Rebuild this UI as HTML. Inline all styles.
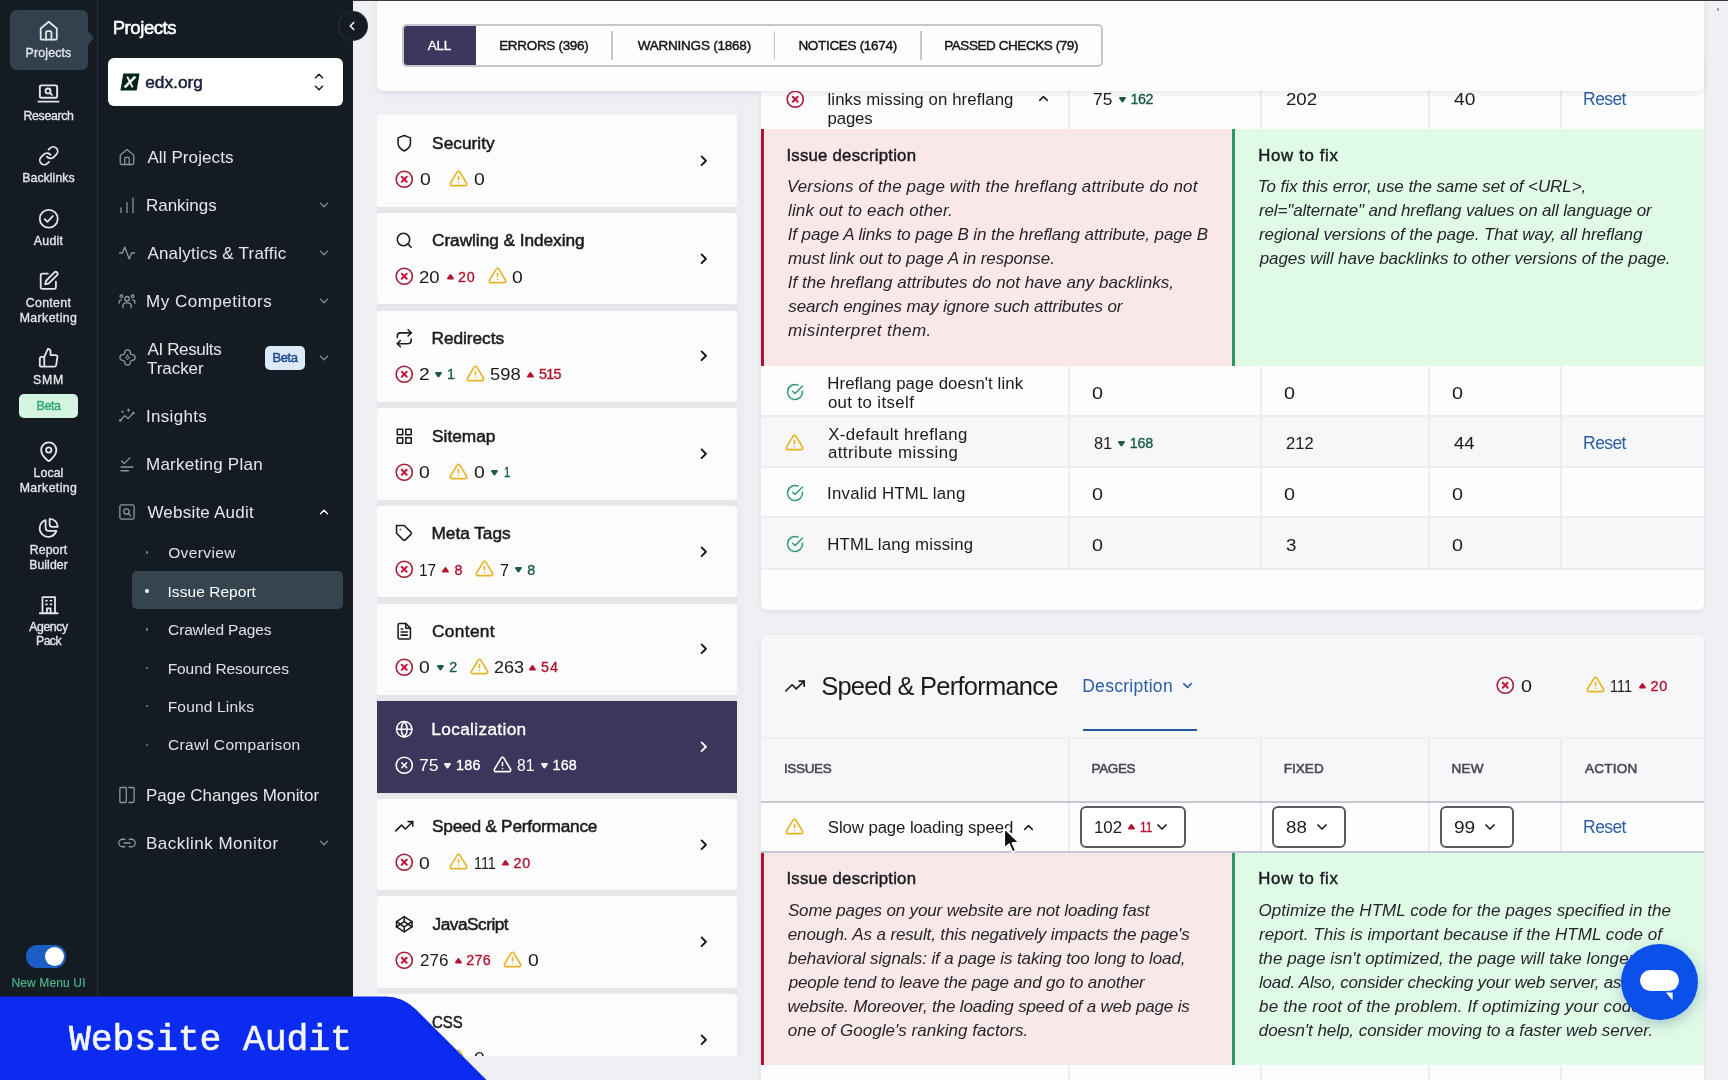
<!DOCTYPE html>
<html lang="en"><head><meta charset="utf-8"><title>Website Audit - Issue Report</title><style>
*{box-sizing:border-box;margin:0;padding:0}
html,body{width:1728px;height:1080px;overflow:hidden}
body{position:relative;background:#eff0f4;font-family:"Liberation Sans",sans-serif;color:#1f1f24}
.rail{position:absolute;left:0;top:0;width:98px;height:1080px;background:#151b23;border-right:1px solid #252d37}
.panel{position:absolute;left:98px;top:0;width:254.600px;height:1080px;background:#151b23}
.panel>*{margin-left:-98px}
span,h2,h3,p,a,.bx,.ic{position:absolute;white-space:nowrap;display:block;font-weight:400}
a{text-decoration:none}
.ic{overflow:visible}
.clip{position:absolute;overflow:hidden}
.rail,.panel,main,body>span{will-change:transform}
</style></head>
<body>
<aside class="rail"><div class="bx" style="left:9.5px;top:9.5px;width:78.5px;height:60.0px;background:#33414e;border-radius:7px;"></div><svg class="ic" style="left:87.5px;top:31px" width="7" height="14" viewBox="0 0 7 14"><path d="M0 0 L6 7 L0 14 Z" fill="#33414e"/></svg><svg class="ic" style="left:37.8px;top:20.2px" width="21.5" height="21.5" viewBox="0 0 24 24" fill="none" stroke="#e1e6ea" stroke-width="2.0" stroke-linecap="round" stroke-linejoin="round"><path d="M3 9.5l9-7.5 9 7.5V20a2 2 0 0 1-2 2H5a2 2 0 0 1-2-2z"/><path d="M9 22v-8a1.5 1.5 0 0 1 1.5-1.5h3A1.5 1.5 0 0 1 15 14v8"/></svg><span style="left:-151.5px;width:400px;text-align:center;top:46.3px;font-size:12.3px;line-height:15px;color:#e1e6ea;letter-spacing:0.17px;-webkit-text-stroke:0.35px #e1e6ea;">Projects</span><svg class="ic" style="left:37.0px;top:82.0px" width="23" height="23" viewBox="0 0 24 24" fill="none" stroke="#e1e6ea" stroke-width="2.0" stroke-linecap="round" stroke-linejoin="round"><rect x="3" y="3.5" width="18" height="13" rx="1.5"/><line x1="1.5" y1="20.5" x2="22.5" y2="20.5"/><circle cx="11.5" cy="9.3" r="2.6"/><line x1="13.6" y1="11.4" x2="15.6" y2="13.4"/></svg><span style="left:-151.5px;width:400px;text-align:center;top:108.5px;font-size:12.3px;line-height:15px;color:#e1e6ea;letter-spacing:-0.34px;-webkit-text-stroke:0.35px #e1e6ea;">Research</span><svg class="ic" style="left:37.8px;top:145.2px" width="21.5" height="21.5" viewBox="0 0 24 24" fill="none" stroke="#e1e6ea" stroke-width="2.0" stroke-linecap="round" stroke-linejoin="round"><path d="M10 13a5 5 0 0 0 7.54.54l3-3a5 5 0 0 0-7.07-7.07l-1.72 1.71"/><path d="M14 11a5 5 0 0 0-7.54-.54l-3 3a5 5 0 0 0 7.07 7.07l1.71-1.71"/></svg><span style="left:-151.5px;width:400px;text-align:center;top:171.0px;font-size:12.3px;line-height:15px;color:#e1e6ea;letter-spacing:0.06px;-webkit-text-stroke:0.35px #e1e6ea;">Backlinks</span><svg class="ic" style="left:37.8px;top:207.6px" width="21.5" height="21.5" viewBox="0 0 24 24" fill="none" stroke="#e1e6ea" stroke-width="2.0" stroke-linecap="round" stroke-linejoin="round"><circle cx="12" cy="12" r="10"/><polyline points="7.5 12.5 10.5 15.5 16.5 9"/></svg><span style="left:-151.5px;width:400px;text-align:center;top:234.0px;font-size:12.3px;line-height:15px;color:#e1e6ea;letter-spacing:0.26px;-webkit-text-stroke:0.35px #e1e6ea;">Audit</span><svg class="ic" style="left:37.8px;top:270.2px" width="21.5" height="21.5" viewBox="0 0 24 24" fill="none" stroke="#e1e6ea" stroke-width="2.0" stroke-linecap="round" stroke-linejoin="round"><path d="M11 4H5a2 2 0 0 0-2 2v13a2 2 0 0 0 2 2h13a2 2 0 0 0 2-2v-6"/><path d="M18.3 2.7a2.1 2.1 0 0 1 3 3L12 15l-4 1 1-4 9.3-9.3z"/></svg><span style="left:-151.5px;width:400px;text-align:center;top:296.3px;font-size:12.3px;line-height:15px;color:#e1e6ea;letter-spacing:0.35px;-webkit-text-stroke:0.35px #e1e6ea;">Content</span><span style="left:-151.5px;width:400px;text-align:center;top:310.5px;font-size:12.3px;line-height:15px;color:#e1e6ea;letter-spacing:0.40px;-webkit-text-stroke:0.35px #e1e6ea;">Marketing</span><svg class="ic" style="left:37.8px;top:346.9px" width="21.5" height="21.5" viewBox="0 0 24 24" fill="none" stroke="#e1e6ea" stroke-width="2.0" stroke-linecap="round" stroke-linejoin="round"><path d="M14 9V5a3 3 0 0 0-3-3l-4 9v11h11.28a2 2 0 0 0 2-1.7l1.38-9a2 2 0 0 0-2-2.3zM7 22H4a2 2 0 0 1-2-2v-7a2 2 0 0 1 2-2h3"/></svg><span style="left:-151.5px;width:400px;text-align:center;top:372.5px;font-size:12.3px;line-height:15px;color:#e1e6ea;letter-spacing:0.80px;-webkit-text-stroke:0.35px #e1e6ea;">SMM</span><div class="bx" style="left:19.0px;top:393.5px;width:59.2px;height:24.3px;background:#d3f5e1;border-radius:5px;"></div><span style="left:-151.5px;width:400px;text-align:center;top:398.0px;font-size:12.5px;line-height:16px;color:#2fa56f;letter-spacing:-0.44px;-webkit-text-stroke:0.4px #2fa56f;">Beta</span><svg class="ic" style="left:37.8px;top:440.8px" width="21.5" height="21.5" viewBox="0 0 24 24" fill="none" stroke="#e1e6ea" stroke-width="2.0" stroke-linecap="round" stroke-linejoin="round"><path d="M20.5 10c0 7-8.5 12.5-8.5 12.5S3.5 17 3.5 10a8.5 8.5 0 0 1 17 0z"/><circle cx="12" cy="10" r="3"/></svg><span style="left:-151.5px;width:400px;text-align:center;top:466.3px;font-size:12.3px;line-height:15px;color:#e1e6ea;letter-spacing:0.08px;-webkit-text-stroke:0.35px #e1e6ea;">Local</span><span style="left:-151.5px;width:400px;text-align:center;top:480.8px;font-size:12.3px;line-height:15px;color:#e1e6ea;letter-spacing:0.40px;-webkit-text-stroke:0.35px #e1e6ea;">Marketing</span><svg class="ic" style="left:37.8px;top:517.0px" width="21.5" height="21.5" viewBox="0 0 24 24" fill="none" stroke="#e1e6ea" stroke-width="2.0" stroke-linecap="round" stroke-linejoin="round"><path d="M20.5 15.5A9.5 9.5 0 1 1 8.5 3.6V12a3.5 3.5 0 0 0 3.5 3.5z"/><path d="M22 11A9 9 0 0 0 13 2v6a3 3 0 0 0 3 3z"/></svg><span style="left:-151.5px;width:400px;text-align:center;top:543.4px;font-size:12.3px;line-height:15px;color:#e1e6ea;letter-spacing:0.12px;-webkit-text-stroke:0.35px #e1e6ea;">Report</span><span style="left:-151.5px;width:400px;text-align:center;top:557.6px;font-size:12.3px;line-height:15px;color:#e1e6ea;letter-spacing:0.06px;-webkit-text-stroke:0.35px #e1e6ea;">Builder</span><svg class="ic" style="left:37.8px;top:594.2px" width="21.5" height="21.5" viewBox="0 0 24 24" fill="none" stroke="#e1e6ea" stroke-width="2.0" stroke-linecap="round" stroke-linejoin="round"><path d="M5 21V3.5h14V21"/><line x1="2" y1="21.5" x2="22" y2="21.5"/><path d="M10 21v-5h4v5"/><line x1="9" y1="7.5" x2="10" y2="7.5"/><line x1="14" y1="7.5" x2="15" y2="7.5"/><line x1="9" y1="11.5" x2="10" y2="11.5"/><line x1="14" y1="11.5" x2="15" y2="11.5"/></svg><span style="left:-151.5px;width:400px;text-align:center;top:620.3px;font-size:12.3px;line-height:15px;color:#e1e6ea;letter-spacing:-0.44px;-webkit-text-stroke:0.35px #e1e6ea;">Agency</span><span style="left:-151.5px;width:400px;text-align:center;top:634.3px;font-size:12.3px;line-height:15px;color:#e1e6ea;letter-spacing:-0.64px;-webkit-text-stroke:0.35px #e1e6ea;">Pack</span><div class="bx" style="left:25.5px;top:944.6px;width:40.5px;height:23.1px;background:#1c5fc4;border-radius:12px;"></div><div class="bx" style="left:44.5px;top:946.5px;width:19.2px;height:19.2px;background:#ffffff;border-radius:10px;"></div><span style="left:-151.5px;width:400px;text-align:center;top:976.2px;font-size:12px;line-height:15px;color:#4db38a;letter-spacing:0.14px;-webkit-text-stroke:0.2px #4db38a;">New Menu UI</span></aside>
<nav class="panel"><h2 style="left:112.7px;top:15.7px;font-size:18.5px;line-height:23px;color:#ffffff;letter-spacing:-0.42px;-webkit-text-stroke:0.55px #ffffff;">Projects</h2><div class="bx" style="left:108.0px;top:58.0px;width:235.0px;height:48.0px;background:#ffffff;border-radius:6px;"></div><svg class="ic" style="left:119.5px;top:72.5px" width="20" height="18" viewBox="0 0 20 18"><path d="M3.300 0.500H19.600L16.700 17.500H0.400Z" fill="#07241c"/><path d="M15.300 3.600L4.700 14.400" stroke="#f2fbf6" stroke-width="2.600" fill="none"/><path d="M7.200 3.600L12.600 14.400" stroke="#f2fbf6" stroke-width="1.900" fill="none"/></svg><span style="left:145.2px;top:71.4px;font-size:17.3px;line-height:22px;color:#1b1e3b;letter-spacing:0.01px;-webkit-text-stroke:0.5px #1b1e3b;">edx.org</span><svg class="ic" style="left:312.0px;top:69.3px" width="14" height="14" viewBox="0 0 24 24" fill="none" stroke="#1c1c1c" stroke-width="2.6" stroke-linecap="round" stroke-linejoin="round"><polyline points="18 15 12 9 6 15"/></svg><svg class="ic" style="left:312.0px;top:81.0px" width="14" height="14" viewBox="0 0 24 24" fill="none" stroke="#1c1c1c" stroke-width="2.6" stroke-linecap="round" stroke-linejoin="round"><polyline points="6 9 12 15 18 9"/></svg><svg class="ic" style="left:118.0px;top:147.5px" width="18" height="18" viewBox="0 0 24 24" fill="none" stroke="#8d98a3" stroke-width="1.7" stroke-linecap="round" stroke-linejoin="round"><path d="M3 9.5l9-7.5 9 7.5V20a2 2 0 0 1-2 2H5a2 2 0 0 1-2-2z"/><path d="M9 22v-8a1.5 1.5 0 0 1 1.5-1.5h3A1.5 1.5 0 0 1 15 14v8"/></svg><span style="left:147.4px;top:146.6px;font-size:17px;line-height:21px;color:#e4e8eb;letter-spacing:0.10px;">All Projects</span><svg class="ic" style="left:118.0px;top:195.8px" width="18" height="18" viewBox="0 0 24 24" fill="none" stroke="#8d98a3" stroke-width="1.7" stroke-linecap="round" stroke-linejoin="round"><line x1="4" y1="22" x2="4" y2="16"/><line x1="12" y1="22" x2="12" y2="9"/><line x1="20" y1="22" x2="20" y2="3"/></svg><span style="left:146.0px;top:194.9px;font-size:17px;line-height:21px;color:#e4e8eb;letter-spacing:-0.03px;">Rankings</span><svg class="ic" style="left:317.0px;top:197.8px" width="14" height="14" viewBox="0 0 24 24" fill="none" stroke="#7d8893" stroke-width="2.4" stroke-linecap="round" stroke-linejoin="round"><polyline points="6 9 12 15 18 9"/></svg><svg class="ic" style="left:118.0px;top:243.7px" width="18" height="18" viewBox="0 0 24 24" fill="none" stroke="#8d98a3" stroke-width="1.7" stroke-linecap="round" stroke-linejoin="round"><polyline points="22 12 18 12 15 20 9 4 6 12 2 12"/></svg><span style="left:147.4px;top:242.8px;font-size:17px;line-height:21px;color:#e4e8eb;letter-spacing:0.22px;">Analytics &amp; Traffic</span><svg class="ic" style="left:317.0px;top:245.7px" width="14" height="14" viewBox="0 0 24 24" fill="none" stroke="#7d8893" stroke-width="2.4" stroke-linecap="round" stroke-linejoin="round"><polyline points="6 9 12 15 18 9"/></svg><svg class="ic" style="left:118.0px;top:291.6px" width="18" height="18" viewBox="0 0 24 24" fill="none" stroke="#8d98a3" stroke-width="1.7" stroke-linecap="round" stroke-linejoin="round"><circle cx="12" cy="9" r="3"/><path d="M6.5 21v-2.5a4 4 0 0 1 4-4h3a4 4 0 0 1 4 4V21"/><circle cx="4.5" cy="5.5" r="1.8"/><circle cx="19.5" cy="5.5" r="1.8"/><path d="M1.5 15v-1.5a3 3 0 0 1 3-3"/><path d="M22.5 15v-1.5a3 3 0 0 0-3-3"/></svg><span style="left:146.0px;top:290.7px;font-size:17px;line-height:21px;color:#e4e8eb;letter-spacing:0.52px;">My Competitors</span><svg class="ic" style="left:317.0px;top:293.6px" width="14" height="14" viewBox="0 0 24 24" fill="none" stroke="#7d8893" stroke-width="2.4" stroke-linecap="round" stroke-linejoin="round"><polyline points="6 9 12 15 18 9"/></svg><svg class="ic" style="left:117.5px;top:348.0px" width="19" height="19" viewBox="0 0 24 24" fill="none" stroke="#8d98a3" stroke-width="1.6" stroke-linecap="round" stroke-linejoin="round"><path d="M8.400 6A3.600 3.600 0 0 1 15.600 6Q15.600 8.400 18 8.400A3.600 3.600 0 0 1 18 15.600Q15.600 15.600 15.600 18A3.600 3.600 0 0 1 8.400 18Q8.400 15.600 6 15.600A3.600 3.600 0 0 1 6 8.400Q8.400 8.400 8.400 6Z"/><path d="M12 9l0.900 2.100 2.100 0.900-2.100 0.900-0.900 2.100-0.900-2.100-2.100-0.900 2.100-0.900z" stroke-width="1.2"/></svg><span style="left:147.4px;top:339.4px;font-size:17px;line-height:21px;color:#e4e8eb;letter-spacing:-0.35px;">AI Results</span><span style="left:147.1px;top:358.4px;font-size:17px;line-height:21px;color:#e4e8eb;letter-spacing:-0.07px;">Tracker</span><div class="bx" style="left:265.0px;top:345.5px;width:40.0px;height:24.0px;background:#dce9f8;border-radius:5px;"></div><span style="left:85.0px;width:400px;text-align:center;top:349.9px;font-size:13px;line-height:16px;color:#1d4a8d;letter-spacing:-0.46px;-webkit-text-stroke:0.45px #1d4a8d;">Beta</span><svg class="ic" style="left:317.0px;top:350.5px" width="14" height="14" viewBox="0 0 24 24" fill="none" stroke="#7d8893" stroke-width="2.4" stroke-linecap="round" stroke-linejoin="round"><polyline points="6 9 12 15 18 9"/></svg><svg class="ic" style="left:118.0px;top:407.0px" width="18" height="18" viewBox="0 0 24 24" fill="none" stroke="#8d98a3" stroke-width="1.7" stroke-linecap="round" stroke-linejoin="round"><polyline points="3 18 9 11.500 13.500 15.500 20.500 8"/><circle cx="3" cy="18" r="0.8"/><circle cx="20.500" cy="8" r="0.8"/><path d="M14 2.500v3.400M12.300 4.200h3.400" stroke-width="1.3"/><path d="M6 5.500v2M5 6.500h2" stroke-width="1.2"/></svg><span style="left:145.9px;top:406.1px;font-size:17px;line-height:21px;color:#e4e8eb;letter-spacing:0.34px;">Insights</span><svg class="ic" style="left:118.0px;top:455.0px" width="18" height="18" viewBox="0 0 24 24" fill="none" stroke="#8d98a3" stroke-width="1.7" stroke-linecap="round" stroke-linejoin="round"><polyline points="5 8 8.5 11.5 16 3.500"/><line x1="4" y1="16" x2="20" y2="16"/><line x1="4" y1="21" x2="14" y2="21"/></svg><span style="left:146.0px;top:454.1px;font-size:17px;line-height:21px;color:#e4e8eb;letter-spacing:0.25px;">Marketing Plan</span><svg class="ic" style="left:118.0px;top:503.0px" width="18" height="18" viewBox="0 0 24 24" fill="none" stroke="#8d98a3" stroke-width="1.7" stroke-linecap="round" stroke-linejoin="round"><rect x="2.500" y="2.500" width="19" height="19" rx="2.500"/><circle cx="11.300" cy="11.300" r="3.600"/><line x1="14" y1="14" x2="17" y2="17"/></svg><span style="left:147.4px;top:502.1px;font-size:17px;line-height:21px;color:#e4e8eb;letter-spacing:0.22px;">Website Audit</span><svg class="ic" style="left:317.0px;top:505.0px" width="14" height="14" viewBox="0 0 24 24" fill="none" stroke="#ffffff" stroke-width="2.4" stroke-linecap="round" stroke-linejoin="round"><polyline points="18 15 12 9 6 15"/></svg><div class="bx" style="left:132.0px;top:571.2px;width:211.0px;height:38.3px;background:#36444f;border-radius:5px;"></div><div class="bx" style="left:146.1px;top:551.4px;width:2.2px;height:2.2px;background:#76828d;border-radius:50%;"></div><span style="left:168.2px;top:543.0px;font-size:15.5px;line-height:19px;color:#dde2e6;letter-spacing:0.37px;">Overview</span><div class="bx" style="left:145.0px;top:588.8px;width:4.4px;height:4.4px;background:#ffffff;border-radius:50%;"></div><span style="left:167.5px;top:581.5px;font-size:15.5px;line-height:19px;color:#ffffff;letter-spacing:0.05px;">Issue Report</span><div class="bx" style="left:146.1px;top:628.4px;width:2.2px;height:2.2px;background:#76828d;border-radius:50%;"></div><span style="left:168.1px;top:620.0px;font-size:15.5px;line-height:19px;color:#dde2e6;letter-spacing:-0.15px;">Crawled Pages</span><div class="bx" style="left:146.1px;top:666.9px;width:2.2px;height:2.2px;background:#76828d;border-radius:50%;"></div><span style="left:167.7px;top:658.5px;font-size:15.5px;line-height:19px;color:#dde2e6;letter-spacing:-0.08px;">Found Resources</span><div class="bx" style="left:146.1px;top:705.2px;width:2.2px;height:2.2px;background:#76828d;border-radius:50%;"></div><span style="left:167.7px;top:696.8px;font-size:15.5px;line-height:19px;color:#dde2e6;letter-spacing:0.18px;">Found Links</span><div class="bx" style="left:146.1px;top:743.6px;width:2.2px;height:2.2px;background:#76828d;border-radius:50%;"></div><span style="left:168.1px;top:735.2px;font-size:15.5px;line-height:19px;color:#dde2e6;letter-spacing:0.31px;">Crawl Comparison</span><svg class="ic" style="left:118.0px;top:786.0px" width="18" height="18" viewBox="0 0 24 24" fill="none" stroke="#8d98a3" stroke-width="1.7" stroke-linecap="round" stroke-linejoin="round"><rect x="2.500" y="2" width="8.500" height="20" rx="1.2"/><path d="M14.500 2h5a2 2 0 0 1 2 2v16a2 2 0 0 1-2 2h-5"/></svg><span style="left:146.0px;top:785.1px;font-size:17px;line-height:21px;color:#e4e8eb;letter-spacing:-0.04px;">Page Changes Monitor</span><svg class="ic" style="left:118.0px;top:834.0px" width="18" height="18" viewBox="0 0 24 24" fill="none" stroke="#8d98a3" stroke-width="1.7" stroke-linecap="round" stroke-linejoin="round"><path d="M15 7h3a5 5 0 0 1 0 10h-3m-6 0H6A5 5 0 0 1 6 7h3"/><line x1="8" y1="12" x2="16" y2="12"/></svg><span style="left:146.0px;top:833.1px;font-size:17px;line-height:21px;color:#e4e8eb;letter-spacing:0.49px;">Backlink Monitor</span><svg class="ic" style="left:317.0px;top:836.0px" width="14" height="14" viewBox="0 0 24 24" fill="none" stroke="#7d8893" stroke-width="2.4" stroke-linecap="round" stroke-linejoin="round"><polyline points="6 9 12 15 18 9"/></svg></nav>
<div class="bx" style="left:338.6px;top:12px;width:28px;height:28px;border-radius:50%;background:#161c24;box-shadow:0 0 0 1px #2a323c;"></div>
<svg class="ic" style="left:345.0px;top:19.0px" width="14" height="14" viewBox="0 0 24 24" fill="none" stroke="#ffffff" stroke-width="2.6" stroke-linecap="round" stroke-linejoin="round"><polyline points="15 18 9 12 15 6"/></svg>
<main><div class="bx" style="left:761.0px;top:60.0px;width:943.0px;height:550.2px;background:#fdfdfe;border-radius:0 0 6px 6px;box-shadow:0 2px 5px rgba(40,40,60,.08);"></div>
<div class="bx" style="left:1068.0px;top:60.0px;width:2.0px;height:69.3px;background:#ececf1;"></div><div class="bx" style="left:1259.7px;top:60.0px;width:2.0px;height:69.3px;background:#ececf1;"></div><div class="bx" style="left:1428.0px;top:60.0px;width:2.0px;height:69.3px;background:#ececf1;"></div><div class="bx" style="left:1559.7px;top:60.0px;width:2.0px;height:69.3px;background:#ececf1;"></div>
<svg class="ic" style="left:785.5px;top:89.8px" width="18.5" height="18.5" viewBox="0 0 24 24" fill="none" stroke="#a31b31" stroke-width="2.0" stroke-linecap="round" stroke-linejoin="round"><circle cx="12" cy="12" r="10.5"/><g stroke="#c4163a" stroke-width="2.500"><line x1="15.200" y1="8.800" x2="8.800" y2="15.200"/><line x1="8.800" y1="8.800" x2="15.200" y2="15.200"/></g></svg>
<span style="left:827.5px;top:88.5px;font-size:16.8px;line-height:21px;color:#1a1a1f;letter-spacing:0.09px;">links missing on hreflang</span>
<span style="left:827.6px;top:108.0px;font-size:16.8px;line-height:21px;color:#1a1a1f;letter-spacing:-0.17px;">pages</span>
<svg class="ic" style="left:1035.5px;top:91.0px" width="15" height="15" viewBox="0 0 24 24" fill="none" stroke="#1c1c1c" stroke-width="2.4" stroke-linecap="round" stroke-linejoin="round"><polyline points="18 15 12 9 6 15"/></svg>
<span style="left:1093.4px;top:88.5px;font-size:16.2px;line-height:20px;color:#1a1a1f;transform:scaleX(1.071);transform-origin:0 50%;">75</span>
<svg class="ic" style="left:1119.2px;top:96.5px" width="6.9" height="5.5" viewBox="0 0 6.9 5.5"><path d="M1.0 1.0 L5.9 1.0 L3.45 4.5 Z" fill="#195c41" stroke="#195c41" stroke-width="2" stroke-linejoin="round"/></svg>
<span style="left:1130.6px;top:89.8px;font-size:14.3px;line-height:18px;color:#195c41;letter-spacing:-0.49px;-webkit-text-stroke:0.35px #195c41;">162</span>
<span style="left:1285.5px;top:88.5px;font-size:16.2px;line-height:20px;color:#1a1a1f;transform:scaleX(1.152);transform-origin:0 50%;">202</span>
<span style="left:1454.2px;top:88.5px;font-size:16.2px;line-height:20px;color:#1a1a1f;transform:scaleX(1.182);transform-origin:0 50%;">40</span>
<a style="left:1583.1px;top:88.0px;font-size:17.5px;line-height:22px;color:#2b5ea6;letter-spacing:-0.59px;">Reset</a>
<div class="bx" style="left:761.0px;top:129.3px;width:471.6px;height:237.0px;background:#fae7e7;border-left:3px solid #b5122e;"></div><div class="bx" style="left:1231.6px;top:129.3px;width:472.4px;height:237.0px;background:#dffbe6;border-left:3px solid #2f9468;"></div><h3 style="left:786.4px;top:144.5px;font-size:16.8px;line-height:21px;color:#1a1a1f;letter-spacing:0.23px;-webkit-text-stroke:0.45px #1a1a1f;">Issue description</h3><h3 style="left:1258.3px;top:144.5px;font-size:16.8px;line-height:21px;color:#1a1a1f;letter-spacing:0.65px;-webkit-text-stroke:0.45px #1a1a1f;">How to fix</h3><p style="left:786.9px;top:176.3px;font-size:17px;line-height:21px;color:#25252b;font-style:italic;letter-spacing:0.14px;">Versions of the page with the hreflang attribute do not</p><p style="left:788.0px;top:200.3px;font-size:17px;line-height:21px;color:#25252b;font-style:italic;letter-spacing:0.13px;">link out to each other.</p><p style="left:787.7px;top:224.3px;font-size:17px;line-height:21px;color:#25252b;font-style:italic;letter-spacing:-0.08px;">If page A links to page B in the hreflang attribute, page B</p><p style="left:788.0px;top:248.3px;font-size:17px;line-height:21px;color:#25252b;font-style:italic;letter-spacing:-0.06px;">must link out to page A in response.</p><p style="left:787.7px;top:272.3px;font-size:17px;line-height:21px;color:#25252b;font-style:italic;letter-spacing:0.05px;">If the hreflang attributes do not have any backlinks,</p><p style="left:788.3px;top:296.3px;font-size:17px;line-height:21px;color:#25252b;font-style:italic;letter-spacing:-0.12px;">search engines may ignore such attributes or</p><p style="left:788.0px;top:320.3px;font-size:17px;line-height:21px;color:#25252b;font-style:italic;letter-spacing:0.42px;">misinterpret them.</p><p style="left:1257.8px;top:176.3px;font-size:17px;line-height:21px;color:#25252b;font-style:italic;letter-spacing:-0.08px;">To fix this error, use the same set of &lt;URL&gt;,</p><p style="left:1259.0px;top:200.3px;font-size:17px;line-height:21px;color:#25252b;font-style:italic;letter-spacing:-0.14px;">rel="alternate" and hreflang values on all language or</p><p style="left:1259.0px;top:224.3px;font-size:17px;line-height:21px;color:#25252b;font-style:italic;letter-spacing:-0.09px;">regional versions of the page. That way, all hreflang</p><p style="left:1259.7px;top:248.3px;font-size:17px;line-height:21px;color:#25252b;font-style:italic;letter-spacing:-0.09px;">pages will have backlinks to other versions of the page.</p>
<div class="bx" style="left:761.0px;top:366.3px;width:943.0px;height:50.9px;background:#fdfdfe;border-bottom:2px solid #ececf1;"></div>
<div class="bx" style="left:1068.0px;top:366.3px;width:2.0px;height:50.9px;background:#ececf1;"></div><div class="bx" style="left:1259.7px;top:366.3px;width:2.0px;height:50.9px;background:#ececf1;"></div><div class="bx" style="left:1428.0px;top:366.3px;width:2.0px;height:50.9px;background:#ececf1;"></div><div class="bx" style="left:1559.7px;top:366.3px;width:2.0px;height:50.9px;background:#ececf1;"></div>
<svg class="ic" style="left:785.8px;top:383.1px" width="18" height="18" viewBox="0 0 24 24" fill="none" stroke="#2f9a73" stroke-width="2.0" stroke-linecap="round" stroke-linejoin="round"><path d="M22 11.080V12a10 10 0 1 1-5.930-9.140"/><polyline points="22 4 12 14.010 9 11.010"/></svg>
<span style="left:827.3px;top:372.8px;font-size:16.8px;line-height:21px;color:#1a1a1f;letter-spacing:0.09px;">Hreflang page doesn't link</span>
<span style="left:827.9px;top:391.6px;font-size:16.8px;line-height:21px;color:#1a1a1f;letter-spacing:0.40px;">out to itself</span>
<span style="left:1091.9px;top:382.6px;font-size:16.2px;line-height:20px;color:#1a1a1f;transform:scaleX(1.222);transform-origin:0 50%;">0</span>
<span style="left:1284.1px;top:382.6px;font-size:16.2px;line-height:20px;color:#1a1a1f;transform:scaleX(1.222);transform-origin:0 50%;">0</span>
<span style="left:1451.9px;top:382.6px;font-size:16.2px;line-height:20px;color:#1a1a1f;transform:scaleX(1.222);transform-origin:0 50%;">0</span>
<div class="bx" style="left:761.0px;top:417.2px;width:943.0px;height:50.6px;background:#f7f7f9;border-bottom:2px solid #ececf1;"></div>
<div class="bx" style="left:1068.0px;top:417.2px;width:2.0px;height:50.6px;background:#ececf1;"></div><div class="bx" style="left:1259.7px;top:417.2px;width:2.0px;height:50.6px;background:#ececf1;"></div><div class="bx" style="left:1428.0px;top:417.2px;width:2.0px;height:50.6px;background:#ececf1;"></div><div class="bx" style="left:1559.7px;top:417.2px;width:2.0px;height:50.6px;background:#ececf1;"></div>
<svg class="ic" style="left:785.3px;top:433.3px" width="19" height="19" viewBox="0 0 24 24" fill="none" stroke="#e6b325" stroke-width="2.0" stroke-linecap="round" stroke-linejoin="round"><path d="M10.29 3.86L1.82 18a2 2 0 0 0 1.71 3h16.940a2 2 0 0 0 1.710-3L13.710 3.860a2 2 0 0 0-3.420 0z"/><line x1="12" y1="9.500" x2="12" y2="13.500"/><line x1="12" y1="17" x2="12.010" y2="17"/></svg>
<span style="left:828.3px;top:423.5px;font-size:16.8px;line-height:21px;color:#1a1a1f;letter-spacing:0.38px;">X-default hreflang</span>
<span style="left:827.9px;top:442.3px;font-size:16.8px;line-height:21px;color:#1a1a1f;letter-spacing:0.49px;">attribute missing</span>
<span style="left:1094.2px;top:432.8px;font-size:16.2px;line-height:20px;color:#1a1a1f;transform:scaleX(1.012);transform-origin:0 50%;">81</span>
<svg class="ic" style="left:1117.7px;top:440.9px" width="6.9" height="5.5" viewBox="0 0 6.9 5.5"><path d="M1.0 1.0 L5.9 1.0 L3.45 4.5 Z" fill="#195c41" stroke="#195c41" stroke-width="2" stroke-linejoin="round"/></svg>
<span style="left:1129.7px;top:434.1px;font-size:14.3px;line-height:18px;color:#195c41;letter-spacing:-0.18px;-webkit-text-stroke:0.35px #195c41;">168</span>
<span style="left:1285.7px;top:433.3px;font-size:16.2px;line-height:20px;color:#1a1a1f;transform:scaleX(1.022);transform-origin:0 50%;">212</span>
<span style="left:1453.9px;top:433.3px;font-size:16.2px;line-height:20px;color:#1a1a1f;transform:scaleX(1.142);transform-origin:0 50%;">44</span>
<a style="left:1583.1px;top:432.4px;font-size:17.5px;line-height:22px;color:#2b5ea6;letter-spacing:-0.59px;">Reset</a>
<div class="bx" style="left:761.0px;top:467.8px;width:943.0px;height:49.8px;background:#fdfdfe;border-bottom:2px solid #ececf1;"></div>
<div class="bx" style="left:1068.0px;top:467.8px;width:2.0px;height:49.8px;background:#ececf1;"></div><div class="bx" style="left:1259.7px;top:467.8px;width:2.0px;height:49.8px;background:#ececf1;"></div><div class="bx" style="left:1428.0px;top:467.8px;width:2.0px;height:49.8px;background:#ececf1;"></div><div class="bx" style="left:1559.7px;top:467.8px;width:2.0px;height:49.8px;background:#ececf1;"></div>
<svg class="ic" style="left:785.8px;top:484.0px" width="18" height="18" viewBox="0 0 24 24" fill="none" stroke="#2f9a73" stroke-width="2.0" stroke-linecap="round" stroke-linejoin="round"><path d="M22 11.080V12a10 10 0 1 1-5.930-9.140"/><polyline points="22 4 12 14.010 9 11.010"/></svg>
<span style="left:827.1px;top:483.3px;font-size:16.8px;line-height:21px;color:#1a1a1f;letter-spacing:0.22px;">Invalid HTML lang</span>
<span style="left:1091.9px;top:483.5px;font-size:16.2px;line-height:20px;color:#1a1a1f;transform:scaleX(1.222);transform-origin:0 50%;">0</span>
<span style="left:1284.1px;top:483.5px;font-size:16.2px;line-height:20px;color:#1a1a1f;transform:scaleX(1.222);transform-origin:0 50%;">0</span>
<span style="left:1451.9px;top:483.5px;font-size:16.2px;line-height:20px;color:#1a1a1f;transform:scaleX(1.222);transform-origin:0 50%;">0</span>
<div class="bx" style="left:761.0px;top:517.6px;width:943.0px;height:52.1px;background:#f7f7f9;border-bottom:2px solid #ececf1;"></div>
<div class="bx" style="left:1068.0px;top:517.6px;width:2.0px;height:52.1px;background:#ececf1;"></div><div class="bx" style="left:1259.7px;top:517.6px;width:2.0px;height:52.1px;background:#ececf1;"></div><div class="bx" style="left:1428.0px;top:517.6px;width:2.0px;height:52.1px;background:#ececf1;"></div><div class="bx" style="left:1559.7px;top:517.6px;width:2.0px;height:52.1px;background:#ececf1;"></div>
<svg class="ic" style="left:785.8px;top:535.0px" width="18" height="18" viewBox="0 0 24 24" fill="none" stroke="#2f9a73" stroke-width="2.0" stroke-linecap="round" stroke-linejoin="round"><path d="M22 11.080V12a10 10 0 1 1-5.930-9.140"/><polyline points="22 4 12 14.010 9 11.010"/></svg>
<span style="left:827.3px;top:534.2px;font-size:16.8px;line-height:21px;color:#1a1a1f;letter-spacing:0.17px;">HTML lang missing</span>
<span style="left:1091.9px;top:534.5px;font-size:16.2px;line-height:20px;color:#1a1a1f;transform:scaleX(1.222);transform-origin:0 50%;">0</span>
<span style="left:1285.8px;top:534.5px;font-size:16.2px;line-height:20px;color:#1a1a1f;transform:scaleX(1.157);transform-origin:0 50%;">3</span>
<span style="left:1451.9px;top:534.5px;font-size:16.2px;line-height:20px;color:#1a1a1f;transform:scaleX(1.222);transform-origin:0 50%;">0</span>
<div class="bx" style="left:761.0px;top:634.5px;width:943.0px;height:460.0px;background:#f7f7fa;border-radius:6px 6px 0 0;box-shadow:0 1px 5px rgba(40,40,60,.08);"></div>
<svg class="ic" style="left:784.5px;top:676.0px" width="20" height="20" viewBox="0 0 24 24" fill="none" stroke="#1c1c1c" stroke-width="2.1" stroke-linecap="round" stroke-linejoin="round"><polyline points="23 6 13.5 15.5 8.5 10.5 1 18"/><polyline points="17 6 23 6 23 12"/></svg>
<h2 style="left:821.2px;top:670.3px;font-size:25.5px;line-height:32px;color:#1a1a1f;letter-spacing:-0.76px;">Speed &amp; Performance</h2>
<a style="left:1082.2px;top:674.5px;font-size:17.5px;line-height:22px;color:#2b5ea6;letter-spacing:0.29px;">Description</a>
<svg class="ic" style="left:1179.8px;top:678.0px" width="15" height="15" viewBox="0 0 24 24" fill="none" stroke="#2b5ea6" stroke-width="2.4" stroke-linecap="round" stroke-linejoin="round"><polyline points="6 9 12 15 18 9"/></svg>
<div class="bx" style="left:1083.0px;top:729.0px;width:114.0px;height:2.0px;background:#1f5a96;"></div>
<div class="bx" style="left:761.0px;top:736.5px;width:943.0px;height:2.0px;background:#f0f0f4;"></div>
<div class="bx" style="left:1068.0px;top:738.5px;width:2.0px;height:62.5px;background:#ececf1;"></div><div class="bx" style="left:1259.7px;top:738.5px;width:2.0px;height:62.5px;background:#ececf1;"></div><div class="bx" style="left:1428.0px;top:738.5px;width:2.0px;height:62.5px;background:#ececf1;"></div><div class="bx" style="left:1559.7px;top:738.5px;width:2.0px;height:62.5px;background:#ececf1;"></div>
<span style="left:783.9px;top:760.2px;font-size:13.5px;line-height:17px;color:#474753;letter-spacing:-0.32px;-webkit-text-stroke:0.55px #474753;">ISSUES</span>
<span style="left:1091.6px;top:760.2px;font-size:13.5px;line-height:17px;color:#474753;letter-spacing:-0.39px;-webkit-text-stroke:0.55px #474753;">PAGES</span>
<span style="left:1283.7px;top:760.2px;font-size:13.5px;line-height:17px;color:#474753;letter-spacing:0.06px;-webkit-text-stroke:0.55px #474753;">FIXED</span>
<span style="left:1451.5px;top:760.2px;font-size:13.5px;line-height:17px;color:#474753;letter-spacing:0.19px;-webkit-text-stroke:0.55px #474753;">NEW</span>
<span style="left:1584.9px;top:760.2px;font-size:13.5px;line-height:17px;color:#474753;letter-spacing:0.28px;-webkit-text-stroke:0.55px #474753;">ACTION</span>
<svg class="ic" style="left:1496.0px;top:676.1px" width="18.5" height="18.5" viewBox="0 0 24 24" fill="none" stroke="#a31b31" stroke-width="2.0" stroke-linecap="round" stroke-linejoin="round"><circle cx="12" cy="12" r="10.5"/><g stroke="#c4163a" stroke-width="2.500"><line x1="15.200" y1="8.800" x2="8.800" y2="15.200"/><line x1="8.800" y1="8.800" x2="15.200" y2="15.200"/></g></svg>
<span style="left:1520.6px;top:675.7px;font-size:16.2px;line-height:20px;color:#1a1a1f;transform:scaleX(1.222);transform-origin:0 50%;">0</span>
<svg class="ic" style="left:1585.9px;top:675.3px" width="19" height="19" viewBox="0 0 24 24" fill="none" stroke="#e6b325" stroke-width="2.0" stroke-linecap="round" stroke-linejoin="round"><path d="M10.29 3.86L1.82 18a2 2 0 0 0 1.71 3h16.940a2 2 0 0 0 1.710-3L13.710 3.860a2 2 0 0 0-3.420 0z"/><line x1="12" y1="9.500" x2="12" y2="13.500"/><line x1="12" y1="17" x2="12.010" y2="17"/></svg>
<span style="left:1610.3px;top:675.7px;font-size:16.2px;line-height:20px;color:#1a1a1f;transform:scaleX(0.891);transform-origin:0 50%;">111</span>
<svg class="ic" style="left:1638.8px;top:683.2px" width="6.9" height="5.5" viewBox="0 0 6.9 5.5"><path d="M3.45 1.0 L5.9 4.5 L1.0 4.5 Z" fill="#b3132f" stroke="#b3132f" stroke-width="2" stroke-linejoin="round"/></svg>
<span style="left:1650.5px;top:676.8px;font-size:14.3px;line-height:18px;color:#b3132f;letter-spacing:0.90px;-webkit-text-stroke:0.35px #b3132f;">20</span>
<div class="bx" style="left:761.0px;top:800.5px;width:943.0px;height:2.0px;background:#c6c8d4;"></div>
<div class="bx" style="left:761.0px;top:802.5px;width:943.0px;height:48.5px;background:#fdfdfe;"></div>
<div class="bx" style="left:1068.0px;top:802.5px;width:2.0px;height:48.5px;background:#ececf1;"></div><div class="bx" style="left:1259.7px;top:802.5px;width:2.0px;height:48.5px;background:#ececf1;"></div><div class="bx" style="left:1428.0px;top:802.5px;width:2.0px;height:48.5px;background:#ececf1;"></div><div class="bx" style="left:1559.7px;top:802.5px;width:2.0px;height:48.5px;background:#ececf1;"></div>
<div class="bx" style="left:761.0px;top:851.0px;width:943.0px;height:2.0px;background:#c6c8d4;"></div>
<svg class="ic" style="left:785.3px;top:817.0px" width="19" height="19" viewBox="0 0 24 24" fill="none" stroke="#e6b325" stroke-width="2.0" stroke-linecap="round" stroke-linejoin="round"><path d="M10.29 3.86L1.82 18a2 2 0 0 0 1.71 3h16.940a2 2 0 0 0 1.710-3L13.710 3.860a2 2 0 0 0-3.420 0z"/><line x1="12" y1="9.500" x2="12" y2="13.500"/><line x1="12" y1="17" x2="12.010" y2="17"/></svg>
<span style="left:827.8px;top:816.9px;font-size:16.8px;line-height:21px;color:#1a1a1f;letter-spacing:-0.09px;">Slow page loading speed</span>
<svg class="ic" style="left:1021.2px;top:819.5px" width="15" height="15" viewBox="0 0 24 24" fill="none" stroke="#1c1c1c" stroke-width="2.4" stroke-linecap="round" stroke-linejoin="round"><polyline points="18 15 12 9 6 15"/></svg>
<div class="bx" style="left:1080.4px;top:806.0px;width:105.6px;height:41.7px;background:#ffffff;border:2px solid #5b5b62;border-radius:6px;"></div>
<span style="left:1093.7px;top:816.8px;font-size:16.2px;line-height:20px;color:#1a1a1f;transform:scaleX(1.039);transform-origin:0 50%;">102</span>
<svg class="ic" style="left:1127.6px;top:823.9px" width="6.9" height="5.5" viewBox="0 0 6.9 5.5"><path d="M3.45 1.0 L5.9 4.5 L1.0 4.5 Z" fill="#b3132f" stroke="#b3132f" stroke-width="2" stroke-linejoin="round"/></svg>
<span style="left:1140.0px;top:817.8px;font-size:14.3px;line-height:18px;color:#b3132f;transform:scaleX(0.834);transform-origin:0 50%;-webkit-text-stroke:0.35px #b3132f;">11</span>
<svg class="ic" style="left:1154.2px;top:819.3px" width="16" height="16" viewBox="0 0 24 24" fill="none" stroke="#1c1c1c" stroke-width="2.5" stroke-linecap="round" stroke-linejoin="round"><polyline points="6 9 12 15 18 9"/></svg>
<div class="bx" style="left:1272.3px;top:806.0px;width:73.5px;height:41.7px;background:#ffffff;border:2px solid #5b5b62;border-radius:6px;"></div>
<span style="left:1286.0px;top:816.8px;font-size:16.2px;line-height:20px;color:#1a1a1f;transform:scaleX(1.157);transform-origin:0 50%;">88</span>
<svg class="ic" style="left:1314.4px;top:819.3px" width="16" height="16" viewBox="0 0 24 24" fill="none" stroke="#1c1c1c" stroke-width="2.5" stroke-linecap="round" stroke-linejoin="round"><polyline points="6 9 12 15 18 9"/></svg>
<div class="bx" style="left:1440.0px;top:806.0px;width:73.9px;height:41.7px;background:#ffffff;border:2px solid #5b5b62;border-radius:6px;"></div>
<span style="left:1454.1px;top:816.8px;font-size:16.2px;line-height:20px;color:#1a1a1f;transform:scaleX(1.180);transform-origin:0 50%;">99</span>
<svg class="ic" style="left:1482.2px;top:819.3px" width="16" height="16" viewBox="0 0 24 24" fill="none" stroke="#1c1c1c" stroke-width="2.5" stroke-linecap="round" stroke-linejoin="round"><polyline points="6 9 12 15 18 9"/></svg>
<a style="left:1583.1px;top:816.3px;font-size:17.5px;line-height:22px;color:#2b5ea6;letter-spacing:-0.59px;">Reset</a>
<div class="bx" style="left:761.0px;top:853.0px;width:471.6px;height:212.0px;background:#fae7e7;border-left:3px solid #b5122e;"></div><div class="bx" style="left:1231.6px;top:853.0px;width:472.4px;height:212.0px;background:#dffbe6;border-left:3px solid #2f9468;"></div><h3 style="left:786.4px;top:868.1px;font-size:16.8px;line-height:21px;color:#1a1a1f;letter-spacing:0.23px;-webkit-text-stroke:0.45px #1a1a1f;">Issue description</h3><h3 style="left:1258.3px;top:868.1px;font-size:16.8px;line-height:21px;color:#1a1a1f;letter-spacing:0.65px;-webkit-text-stroke:0.45px #1a1a1f;">How to fix</h3><p style="left:787.9px;top:899.8px;font-size:17px;line-height:21px;color:#25252b;font-style:italic;letter-spacing:-0.15px;">Some pages on your website are not loading fast</p><p style="left:787.8px;top:923.8px;font-size:17px;line-height:21px;color:#25252b;font-style:italic;letter-spacing:-0.13px;">enough. As a result, this negatively impacts the page's</p><p style="left:788.1px;top:947.8px;font-size:17px;line-height:21px;color:#25252b;font-style:italic;letter-spacing:-0.11px;">behavioral signals: if a page is taking too long to load,</p><p style="left:788.7px;top:971.8px;font-size:17px;line-height:21px;color:#25252b;font-style:italic;letter-spacing:-0.13px;">people tend to leave the page and go to another</p><p style="left:787.5px;top:995.8px;font-size:17px;line-height:21px;color:#25252b;font-style:italic;letter-spacing:-0.15px;">website. Moreover, the loading speed of a web page is</p><p style="left:787.8px;top:1019.8px;font-size:17px;line-height:21px;color:#25252b;font-style:italic;letter-spacing:0.03px;">one of Google's ranking factors.</p><p style="left:1258.5px;top:899.8px;font-size:17px;line-height:21px;color:#25252b;font-style:italic;letter-spacing:0.05px;">Optimize the HTML code for the pages specified in the</p><p style="left:1259.0px;top:923.8px;font-size:17px;line-height:21px;color:#25252b;font-style:italic;letter-spacing:0.05px;">report. This is important because if the HTML code of</p><p style="left:1258.5px;top:947.8px;font-size:17px;line-height:21px;color:#25252b;font-style:italic;letter-spacing:0.10px;">the page isn't optimized, the page will take longer to</p><p style="left:1259.0px;top:971.8px;font-size:17px;line-height:21px;color:#25252b;font-style:italic;letter-spacing:-0.19px;">load. Also, consider checking your web server, as it may</p><p style="left:1259.1px;top:995.8px;font-size:17px;line-height:21px;color:#25252b;font-style:italic;letter-spacing:0.15px;">be the root of the problem. If optimizing your code</p><p style="left:1258.8px;top:1019.8px;font-size:17px;line-height:21px;color:#25252b;font-style:italic;letter-spacing:-0.05px;">doesn't help, consider moving to a faster web server.</p>
<div class="bx" style="left:761.0px;top:1065.0px;width:943.0px;height:20.0px;background:#fdfdfe;"></div>
<div class="bx" style="left:1068.0px;top:1066.0px;width:2.0px;height:14.0px;background:#ececf1;"></div><div class="bx" style="left:1259.7px;top:1066.0px;width:2.0px;height:14.0px;background:#ececf1;"></div><div class="bx" style="left:1428.0px;top:1066.0px;width:2.0px;height:14.0px;background:#ececf1;"></div><div class="bx" style="left:1559.7px;top:1066.0px;width:2.0px;height:14.0px;background:#ececf1;"></div>
<svg class="ic" style="left:1003.3px;top:826.5px" width="18.2" height="27.3" viewBox="0 0 14 21"><path d="M1 1v15.5l3.700-3.400 2.600 6.200 2.500-1.100-2.600-6 5-.3z" fill="#111" stroke="#fff" stroke-width="1.200" stroke-linejoin="round"/></svg>
<section class="clip" style="left:370px;top:100px;width:374px;height:955.5px;border-radius:0 0 6px 6px"><div style="position:absolute;left:-370px;top:-100px"><div class="bx" style="left:377.0px;top:118.0px;width:360.0px;height:960.0px;background:#e5e6e9;"></div><div class="bx" style="left:737.0px;top:90.5px;width:24.0px;height:965.0px;background:#ebedf1;"></div><div class="bx" style="left:377.0px;top:115.2px;width:360.0px;height:91.5px;background:#fcfcfd;border-radius:3px;"></div><svg class="ic" style="left:395.1px;top:133.8px" width="18.5" height="18.5" viewBox="0 0 24 24" fill="none" stroke="#1c1c1c" stroke-width="2.0" stroke-linecap="round" stroke-linejoin="round"><path d="M12 22s8-4 8-10V5l-8-3-8 3v7c0 6 8 10 8 10z"/></svg><h3 style="left:432.1px;top:131.7px;font-size:17.3px;line-height:22px;color:#1a1a1f;letter-spacing:0.02px;-webkit-text-stroke:0.5px #1a1a1f;">Security</h3><svg class="ic" style="left:694.5px;top:152.1px" width="17.5" height="17.5" viewBox="0 0 24 24" fill="none" stroke="#111111" stroke-width="2.5" stroke-linecap="round" stroke-linejoin="round"><polyline points="9 18 15 12 9 6"/></svg><svg class="ic" style="left:394.9px;top:169.6px" width="18.5" height="18.5" viewBox="0 0 24 24" fill="none" stroke="#a31b31" stroke-width="2.0" stroke-linecap="round" stroke-linejoin="round"><circle cx="12" cy="12" r="10.5"/><g stroke="#c4163a" stroke-width="2.500"><line x1="15.200" y1="8.800" x2="8.800" y2="15.200"/><line x1="8.800" y1="8.800" x2="15.200" y2="15.200"/></g></svg><span style="left:419.9px;top:169.0px;font-size:16.2px;line-height:20px;color:#1a1a1f;transform:scaleX(1.196);transform-origin:0 50%;">0</span><svg class="ic" style="left:448.7px;top:168.7px" width="19" height="19" viewBox="0 0 24 24" fill="none" stroke="#e6b325" stroke-width="2.0" stroke-linecap="round" stroke-linejoin="round"><path d="M10.29 3.86L1.82 18a2 2 0 0 0 1.71 3h16.940a2 2 0 0 0 1.710-3L13.710 3.860a2 2 0 0 0-3.420 0z"/><line x1="12" y1="9.500" x2="12" y2="13.500"/><line x1="12" y1="17" x2="12.010" y2="17"/></svg><span style="left:473.9px;top:169.0px;font-size:16.2px;line-height:20px;color:#1a1a1f;transform:scaleX(1.196);transform-origin:0 50%;">0</span><div class="bx" style="left:377.0px;top:212.9px;width:360.0px;height:91.5px;background:#fcfcfd;border-radius:3px;"></div><svg class="ic" style="left:395.1px;top:231.4px" width="18.5" height="18.5" viewBox="0 0 24 24" fill="none" stroke="#1c1c1c" stroke-width="2.0" stroke-linecap="round" stroke-linejoin="round"><circle cx="11" cy="11" r="8"/><line x1="21" y1="21" x2="16.65" y2="16.65"/></svg><h3 style="left:432.0px;top:229.4px;font-size:17.3px;line-height:22px;color:#1a1a1f;letter-spacing:-0.06px;-webkit-text-stroke:0.5px #1a1a1f;">Crawling &amp; Indexing</h3><svg class="ic" style="left:694.5px;top:249.7px" width="17.5" height="17.5" viewBox="0 0 24 24" fill="none" stroke="#111111" stroke-width="2.5" stroke-linecap="round" stroke-linejoin="round"><polyline points="9 18 15 12 9 6"/></svg><svg class="ic" style="left:394.9px;top:267.2px" width="18.5" height="18.5" viewBox="0 0 24 24" fill="none" stroke="#a31b31" stroke-width="2.0" stroke-linecap="round" stroke-linejoin="round"><circle cx="12" cy="12" r="10.5"/><g stroke="#c4163a" stroke-width="2.500"><line x1="15.200" y1="8.800" x2="8.800" y2="15.200"/><line x1="8.800" y1="8.800" x2="15.200" y2="15.200"/></g></svg><span style="left:419.1px;top:266.7px;font-size:16.2px;line-height:20px;color:#1a1a1f;transform:scaleX(1.144);transform-origin:0 50%;">20</span><svg class="ic" style="left:446.8px;top:274.3px" width="6.9" height="5.5" viewBox="0 0 6.9 5.5"><path d="M3.45 1.0 L5.9 4.5 L1.0 4.5 Z" fill="#b3132f" stroke="#b3132f" stroke-width="2" stroke-linejoin="round"/></svg><span style="left:457.9px;top:267.8px;font-size:14.3px;line-height:18px;color:#b3132f;letter-spacing:0.90px;-webkit-text-stroke:0.35px #b3132f;">20</span><svg class="ic" style="left:487.7px;top:266.4px" width="19" height="19" viewBox="0 0 24 24" fill="none" stroke="#e6b325" stroke-width="2.0" stroke-linecap="round" stroke-linejoin="round"><path d="M10.29 3.86L1.82 18a2 2 0 0 0 1.71 3h16.940a2 2 0 0 0 1.710-3L13.710 3.860a2 2 0 0 0-3.420 0z"/><line x1="12" y1="9.500" x2="12" y2="13.500"/><line x1="12" y1="17" x2="12.010" y2="17"/></svg><span style="left:512.3px;top:266.7px;font-size:16.2px;line-height:20px;color:#1a1a1f;transform:scaleX(1.196);transform-origin:0 50%;">0</span><div class="bx" style="left:377.0px;top:310.5px;width:360.0px;height:91.5px;background:#fcfcfd;border-radius:3px;"></div><svg class="ic" style="left:395.1px;top:329.1px" width="18.5" height="18.5" viewBox="0 0 24 24" fill="none" stroke="#1c1c1c" stroke-width="2.0" stroke-linecap="round" stroke-linejoin="round"><polyline points="17 1 21 5 17 9"/><path d="M3 11V9a4 4 0 0 1 4-4h14"/><polyline points="7 23 3 19 7 15"/><path d="M21 13v2a4 4 0 0 1-4 4H3"/></svg><h3 style="left:431.5px;top:327.0px;font-size:17.3px;line-height:22px;color:#1a1a1f;letter-spacing:-0.05px;-webkit-text-stroke:0.5px #1a1a1f;">Redirects</h3><svg class="ic" style="left:694.5px;top:347.4px" width="17.5" height="17.5" viewBox="0 0 24 24" fill="none" stroke="#111111" stroke-width="2.5" stroke-linecap="round" stroke-linejoin="round"><polyline points="9 18 15 12 9 6"/></svg><svg class="ic" style="left:394.9px;top:364.9px" width="18.5" height="18.5" viewBox="0 0 24 24" fill="none" stroke="#a31b31" stroke-width="2.0" stroke-linecap="round" stroke-linejoin="round"><circle cx="12" cy="12" r="10.5"/><g stroke="#c4163a" stroke-width="2.500"><line x1="15.200" y1="8.800" x2="8.800" y2="15.200"/><line x1="8.800" y1="8.800" x2="15.200" y2="15.200"/></g></svg><span style="left:419.0px;top:364.3px;font-size:16.2px;line-height:20px;color:#1a1a1f;transform:scaleX(1.194);transform-origin:0 50%;">2</span><svg class="ic" style="left:435.3px;top:372.0px" width="6.9" height="5.5" viewBox="0 0 6.9 5.5"><path d="M1.0 1.0 L5.9 1.0 L3.45 4.5 Z" fill="#195c41" stroke="#195c41" stroke-width="2" stroke-linejoin="round"/></svg><span style="left:447.0px;top:365.4px;font-size:14.3px;line-height:18px;color:#195c41;letter-spacing:-1.21px;-webkit-text-stroke:0.35px #195c41;">1</span><svg class="ic" style="left:465.5px;top:364.0px" width="19" height="19" viewBox="0 0 24 24" fill="none" stroke="#e6b325" stroke-width="2.0" stroke-linecap="round" stroke-linejoin="round"><path d="M10.29 3.86L1.82 18a2 2 0 0 0 1.71 3h16.940a2 2 0 0 0 1.710-3L13.710 3.860a2 2 0 0 0-3.420 0z"/><line x1="12" y1="9.500" x2="12" y2="13.500"/><line x1="12" y1="17" x2="12.010" y2="17"/></svg><span style="left:490.1px;top:364.3px;font-size:16.2px;line-height:20px;color:#1a1a1f;transform:scaleX(1.137);transform-origin:0 50%;">598</span><svg class="ic" style="left:527.0px;top:372.0px" width="6.9" height="5.5" viewBox="0 0 6.9 5.5"><path d="M3.45 1.0 L5.9 4.5 L1.0 4.5 Z" fill="#b3132f" stroke="#b3132f" stroke-width="2" stroke-linejoin="round"/></svg><span style="left:539.1px;top:365.4px;font-size:14.3px;line-height:18px;color:#b3132f;letter-spacing:-0.78px;-webkit-text-stroke:0.35px #b3132f;">515</span><div class="bx" style="left:377.0px;top:408.2px;width:360.0px;height:91.5px;background:#fcfcfd;border-radius:3px;"></div><svg class="ic" style="left:395.1px;top:426.7px" width="18.5" height="18.5" viewBox="0 0 24 24" fill="none" stroke="#1c1c1c" stroke-width="2.0" stroke-linecap="round" stroke-linejoin="round"><rect x="3" y="3" width="7" height="7"/><rect x="14" y="3" width="7" height="7"/><rect x="14" y="14" width="7" height="7"/><rect x="3" y="14" width="7" height="7"/></svg><h3 style="left:432.1px;top:424.7px;font-size:17.3px;line-height:22px;color:#1a1a1f;letter-spacing:-0.02px;-webkit-text-stroke:0.5px #1a1a1f;">Sitemap</h3><svg class="ic" style="left:694.5px;top:445.0px" width="17.5" height="17.5" viewBox="0 0 24 24" fill="none" stroke="#111111" stroke-width="2.5" stroke-linecap="round" stroke-linejoin="round"><polyline points="9 18 15 12 9 6"/></svg><svg class="ic" style="left:394.9px;top:462.5px" width="18.5" height="18.5" viewBox="0 0 24 24" fill="none" stroke="#a31b31" stroke-width="2.0" stroke-linecap="round" stroke-linejoin="round"><circle cx="12" cy="12" r="10.5"/><g stroke="#c4163a" stroke-width="2.500"><line x1="15.200" y1="8.800" x2="8.800" y2="15.200"/><line x1="8.800" y1="8.800" x2="15.200" y2="15.200"/></g></svg><span style="left:419.3px;top:462.0px;font-size:16.2px;line-height:20px;color:#1a1a1f;transform:scaleX(1.196);transform-origin:0 50%;">0</span><svg class="ic" style="left:449.4px;top:461.7px" width="19" height="19" viewBox="0 0 24 24" fill="none" stroke="#e6b325" stroke-width="2.0" stroke-linecap="round" stroke-linejoin="round"><path d="M10.29 3.86L1.82 18a2 2 0 0 0 1.71 3h16.940a2 2 0 0 0 1.710-3L13.710 3.860a2 2 0 0 0-3.420 0z"/><line x1="12" y1="9.500" x2="12" y2="13.500"/><line x1="12" y1="17" x2="12.010" y2="17"/></svg><span style="left:474.3px;top:462.0px;font-size:16.2px;line-height:20px;color:#1a1a1f;transform:scaleX(1.196);transform-origin:0 50%;">0</span><svg class="ic" style="left:491.4px;top:469.6px" width="6.9" height="5.5" viewBox="0 0 6.9 5.5"><path d="M1.0 1.0 L5.9 1.0 L3.45 4.5 Z" fill="#195c41" stroke="#195c41" stroke-width="2" stroke-linejoin="round"/></svg><span style="left:503.6px;top:463.1px;font-size:14.3px;line-height:18px;color:#195c41;transform:scaleX(0.800);transform-origin:0 50%;-webkit-text-stroke:0.35px #195c41;">1</span><div class="bx" style="left:377.0px;top:505.8px;width:360.0px;height:91.5px;background:#fcfcfd;border-radius:3px;"></div><svg class="ic" style="left:395.1px;top:524.4px" width="18.5" height="18.5" viewBox="0 0 24 24" fill="none" stroke="#1c1c1c" stroke-width="2.0" stroke-linecap="round" stroke-linejoin="round"><path d="M20.59 13.41l-7.17 7.17a2 2 0 0 1-2.83 0L2 12V2h10l8.59 8.59a2 2 0 0 1 0 2.82z"/><line x1="7" y1="7" x2="7.01" y2="7"/></svg><h3 style="left:431.5px;top:522.3px;font-size:17.3px;line-height:22px;color:#1a1a1f;letter-spacing:-0.03px;-webkit-text-stroke:0.5px #1a1a1f;">Meta Tags</h3><svg class="ic" style="left:694.5px;top:542.6px" width="17.5" height="17.5" viewBox="0 0 24 24" fill="none" stroke="#111111" stroke-width="2.5" stroke-linecap="round" stroke-linejoin="round"><polyline points="9 18 15 12 9 6"/></svg><svg class="ic" style="left:394.9px;top:560.1px" width="18.5" height="18.5" viewBox="0 0 24 24" fill="none" stroke="#a31b31" stroke-width="2.0" stroke-linecap="round" stroke-linejoin="round"><circle cx="12" cy="12" r="10.5"/><g stroke="#c4163a" stroke-width="2.500"><line x1="15.200" y1="8.800" x2="8.800" y2="15.200"/><line x1="8.800" y1="8.800" x2="15.200" y2="15.200"/></g></svg><span style="left:418.8px;top:559.6px;font-size:16.2px;line-height:20px;color:#1a1a1f;transform:scaleX(0.954);transform-origin:0 50%;">17</span><svg class="ic" style="left:442.2px;top:567.2px" width="6.9" height="5.5" viewBox="0 0 6.9 5.5"><path d="M3.45 1.0 L5.9 4.5 L1.0 4.5 Z" fill="#b3132f" stroke="#b3132f" stroke-width="2" stroke-linejoin="round"/></svg><span style="left:454.4px;top:560.7px;font-size:14.3px;line-height:18px;color:#b3132f;letter-spacing:0.22px;-webkit-text-stroke:0.35px #b3132f;">8</span><svg class="ic" style="left:475.3px;top:559.3px" width="19" height="19" viewBox="0 0 24 24" fill="none" stroke="#e6b325" stroke-width="2.0" stroke-linecap="round" stroke-linejoin="round"><path d="M10.29 3.86L1.82 18a2 2 0 0 0 1.71 3h16.940a2 2 0 0 0 1.710-3L13.710 3.860a2 2 0 0 0-3.420 0z"/><line x1="12" y1="9.500" x2="12" y2="13.500"/><line x1="12" y1="17" x2="12.010" y2="17"/></svg><span style="left:499.8px;top:559.6px;font-size:16.2px;line-height:20px;color:#1a1a1f;transform:scaleX(0.993);transform-origin:0 50%;">7</span><svg class="ic" style="left:515.0px;top:567.2px" width="6.9" height="5.5" viewBox="0 0 6.9 5.5"><path d="M1.0 1.0 L5.9 1.0 L3.45 4.5 Z" fill="#195c41" stroke="#195c41" stroke-width="2" stroke-linejoin="round"/></svg><span style="left:527.2px;top:560.7px;font-size:14.3px;line-height:18px;color:#195c41;letter-spacing:0.52px;-webkit-text-stroke:0.35px #195c41;">8</span><div class="bx" style="left:377.0px;top:603.5px;width:360.0px;height:91.5px;background:#fcfcfd;border-radius:3px;"></div><svg class="ic" style="left:395.1px;top:622.0px" width="18.5" height="18.5" viewBox="0 0 24 24" fill="none" stroke="#1c1c1c" stroke-width="2.0" stroke-linecap="round" stroke-linejoin="round"><path d="M14 2H6a2 2 0 0 0-2 2v16a2 2 0 0 0 2 2h12a2 2 0 0 0 2-2V8z"/><polyline points="14 2 14 8 20 8"/><line x1="16" y1="13" x2="8" y2="13"/><line x1="16" y1="17" x2="8" y2="17"/><polyline points="10 9 9 9 8 9"/></svg><h3 style="left:432.0px;top:620.0px;font-size:17.3px;line-height:22px;color:#1a1a1f;letter-spacing:0.35px;-webkit-text-stroke:0.5px #1a1a1f;">Content</h3><svg class="ic" style="left:694.5px;top:640.3px" width="17.5" height="17.5" viewBox="0 0 24 24" fill="none" stroke="#111111" stroke-width="2.5" stroke-linecap="round" stroke-linejoin="round"><polyline points="9 18 15 12 9 6"/></svg><svg class="ic" style="left:394.9px;top:657.8px" width="18.5" height="18.5" viewBox="0 0 24 24" fill="none" stroke="#a31b31" stroke-width="2.0" stroke-linecap="round" stroke-linejoin="round"><circle cx="12" cy="12" r="10.5"/><g stroke="#c4163a" stroke-width="2.500"><line x1="15.200" y1="8.800" x2="8.800" y2="15.200"/><line x1="8.800" y1="8.800" x2="15.200" y2="15.200"/></g></svg><span style="left:419.3px;top:657.3px;font-size:16.2px;line-height:20px;color:#1a1a1f;transform:scaleX(1.196);transform-origin:0 50%;">0</span><svg class="ic" style="left:436.7px;top:664.9px" width="6.9" height="5.5" viewBox="0 0 6.9 5.5"><path d="M1.0 1.0 L5.9 1.0 L3.45 4.5 Z" fill="#195c41" stroke="#195c41" stroke-width="2" stroke-linejoin="round"/></svg><span style="left:449.2px;top:658.4px;font-size:14.3px;line-height:18px;color:#195c41;letter-spacing:-0.07px;-webkit-text-stroke:0.35px #195c41;">2</span><svg class="ic" style="left:469.7px;top:657.0px" width="19" height="19" viewBox="0 0 24 24" fill="none" stroke="#e6b325" stroke-width="2.0" stroke-linecap="round" stroke-linejoin="round"><path d="M10.29 3.86L1.82 18a2 2 0 0 0 1.71 3h16.940a2 2 0 0 0 1.710-3L13.710 3.860a2 2 0 0 0-3.420 0z"/><line x1="12" y1="9.500" x2="12" y2="13.500"/><line x1="12" y1="17" x2="12.010" y2="17"/></svg><span style="left:493.5px;top:657.3px;font-size:16.2px;line-height:20px;color:#1a1a1f;transform:scaleX(1.113);transform-origin:0 50%;">263</span><svg class="ic" style="left:528.9px;top:664.9px" width="6.9" height="5.5" viewBox="0 0 6.9 5.5"><path d="M3.45 1.0 L5.9 4.5 L1.0 4.5 Z" fill="#b3132f" stroke="#b3132f" stroke-width="2" stroke-linejoin="round"/></svg><span style="left:541.1px;top:658.4px;font-size:14.3px;line-height:18px;color:#b3132f;letter-spacing:0.90px;-webkit-text-stroke:0.35px #b3132f;">54</span><div class="bx" style="left:377.0px;top:701.1px;width:360.0px;height:91.5px;background:#3d355c;border-radius:0;"></div><svg class="ic" style="left:395.1px;top:719.7px" width="18.5" height="18.5" viewBox="0 0 24 24" fill="none" stroke="#ffffff" stroke-width="2.0" stroke-linecap="round" stroke-linejoin="round"><circle cx="12" cy="12" r="10"/><line x1="2" y1="12" x2="22" y2="12"/><path d="M12 2a15.3 15.3 0 0 1 4 10 15.3 15.3 0 0 1-4 10 15.3 15.3 0 0 1-4-10 15.3 15.3 0 0 1 4-10z"/></svg><h3 style="left:431.3px;top:717.6px;font-size:17.3px;line-height:22px;color:#ffffff;letter-spacing:0.33px;-webkit-text-stroke:0.32px #ffffff;">Localization</h3><svg class="ic" style="left:694.5px;top:738.0px" width="17.5" height="17.5" viewBox="0 0 24 24" fill="none" stroke="#ffffff" stroke-width="2.5" stroke-linecap="round" stroke-linejoin="round"><polyline points="9 18 15 12 9 6"/></svg><svg class="ic" style="left:394.9px;top:755.5px" width="18.5" height="18.5" viewBox="0 0 24 24" fill="none" stroke="#ffffff" stroke-width="2.0" stroke-linecap="round" stroke-linejoin="round"><circle cx="12" cy="12" r="10.5"/><line x1="15.200" y1="8.800" x2="8.800" y2="15.200"/><line x1="8.800" y1="8.800" x2="15.200" y2="15.200"/></svg><span style="left:419.1px;top:754.9px;font-size:16.2px;line-height:20px;color:#ffffff;transform:scaleX(1.089);transform-origin:0 50%;">75</span><svg class="ic" style="left:444.4px;top:762.6px" width="6.9" height="5.5" viewBox="0 0 6.9 5.5"><path d="M1.0 1.0 L5.9 1.0 L3.45 4.5 Z" fill="#ffffff" stroke="#ffffff" stroke-width="2" stroke-linejoin="round"/></svg><span style="left:455.9px;top:756.0px;font-size:14.3px;line-height:18px;color:#ffffff;letter-spacing:0.32px;-webkit-text-stroke:0.35px #ffffff;">186</span><svg class="ic" style="left:492.5px;top:754.6px" width="19" height="19" viewBox="0 0 24 24" fill="none" stroke="#ffffff" stroke-width="2.0" stroke-linecap="round" stroke-linejoin="round"><path d="M10.29 3.86L1.82 18a2 2 0 0 0 1.71 3h16.940a2 2 0 0 0 1.710-3L13.710 3.860a2 2 0 0 0-3.420 0z"/><line x1="12" y1="9.500" x2="12" y2="13.500"/><line x1="12" y1="17" x2="12.010" y2="17"/></svg><span style="left:517.4px;top:754.9px;font-size:16.2px;line-height:20px;color:#ffffff;transform:scaleX(0.964);transform-origin:0 50%;">81</span><svg class="ic" style="left:540.8px;top:762.6px" width="6.9" height="5.5" viewBox="0 0 6.9 5.5"><path d="M1.0 1.0 L5.9 1.0 L3.45 4.5 Z" fill="#ffffff" stroke="#ffffff" stroke-width="2" stroke-linejoin="round"/></svg><span style="left:552.5px;top:756.0px;font-size:14.3px;line-height:18px;color:#ffffff;letter-spacing:0.22px;-webkit-text-stroke:0.35px #ffffff;">168</span><div class="bx" style="left:377.0px;top:798.8px;width:360.0px;height:91.5px;background:#fcfcfd;border-radius:3px;"></div><svg class="ic" style="left:395.1px;top:817.3px" width="18.5" height="18.5" viewBox="0 0 24 24" fill="none" stroke="#1c1c1c" stroke-width="2.0" stroke-linecap="round" stroke-linejoin="round"><polyline points="23 6 13.5 15.5 8.5 10.5 1 18"/><polyline points="17 6 23 6 23 12"/></svg><h3 style="left:432.1px;top:815.3px;font-size:17.3px;line-height:22px;color:#1a1a1f;letter-spacing:-0.26px;-webkit-text-stroke:0.5px #1a1a1f;">Speed &amp; Performance</h3><svg class="ic" style="left:694.5px;top:835.6px" width="17.5" height="17.5" viewBox="0 0 24 24" fill="none" stroke="#111111" stroke-width="2.5" stroke-linecap="round" stroke-linejoin="round"><polyline points="9 18 15 12 9 6"/></svg><svg class="ic" style="left:394.9px;top:853.1px" width="18.5" height="18.5" viewBox="0 0 24 24" fill="none" stroke="#a31b31" stroke-width="2.0" stroke-linecap="round" stroke-linejoin="round"><circle cx="12" cy="12" r="10.5"/><g stroke="#c4163a" stroke-width="2.500"><line x1="15.200" y1="8.800" x2="8.800" y2="15.200"/><line x1="8.800" y1="8.800" x2="15.200" y2="15.200"/></g></svg><span style="left:419.3px;top:852.6px;font-size:16.2px;line-height:20px;color:#1a1a1f;transform:scaleX(1.196);transform-origin:0 50%;">0</span><svg class="ic" style="left:449.4px;top:852.3px" width="19" height="19" viewBox="0 0 24 24" fill="none" stroke="#e6b325" stroke-width="2.0" stroke-linecap="round" stroke-linejoin="round"><path d="M10.29 3.86L1.82 18a2 2 0 0 0 1.71 3h16.940a2 2 0 0 0 1.710-3L13.710 3.860a2 2 0 0 0-3.420 0z"/><line x1="12" y1="9.500" x2="12" y2="13.500"/><line x1="12" y1="17" x2="12.010" y2="17"/></svg><span style="left:473.9px;top:852.6px;font-size:16.2px;line-height:20px;color:#1a1a1f;transform:scaleX(0.882);transform-origin:0 50%;">111</span><svg class="ic" style="left:502.0px;top:860.2px" width="6.9" height="5.5" viewBox="0 0 6.9 5.5"><path d="M3.45 1.0 L5.9 4.5 L1.0 4.5 Z" fill="#b3132f" stroke="#b3132f" stroke-width="2" stroke-linejoin="round"/></svg><span style="left:513.4px;top:853.7px;font-size:14.3px;line-height:18px;color:#b3132f;letter-spacing:0.90px;-webkit-text-stroke:0.35px #b3132f;">20</span><div class="bx" style="left:377.0px;top:896.4px;width:360.0px;height:91.5px;background:#fcfcfd;border-radius:3px;"></div><svg class="ic" style="left:395.1px;top:915.0px" width="18.5" height="18.5" viewBox="0 0 24 24" fill="none" stroke="#1c1c1c" stroke-width="2.0" stroke-linecap="round" stroke-linejoin="round"><polygon points="12 2 22 8.5 22 15.5 12 22 2 15.5 2 8.5 12 2"/><line x1="12" y1="22" x2="12" y2="15.5"/><polyline points="22 8.5 12 15.5 2 8.5"/><polyline points="2 15.5 12 8.5 22 15.5"/><line x1="12" y1="2" x2="12" y2="8.5"/></svg><h3 style="left:432.6px;top:912.9px;font-size:17.3px;line-height:22px;color:#1a1a1f;letter-spacing:-0.52px;-webkit-text-stroke:0.5px #1a1a1f;">JavaScript</h3><svg class="ic" style="left:694.5px;top:933.3px" width="17.5" height="17.5" viewBox="0 0 24 24" fill="none" stroke="#111111" stroke-width="2.5" stroke-linecap="round" stroke-linejoin="round"><polyline points="9 18 15 12 9 6"/></svg><svg class="ic" style="left:394.9px;top:950.8px" width="18.5" height="18.5" viewBox="0 0 24 24" fill="none" stroke="#a31b31" stroke-width="2.0" stroke-linecap="round" stroke-linejoin="round"><circle cx="12" cy="12" r="10.5"/><g stroke="#c4163a" stroke-width="2.500"><line x1="15.200" y1="8.800" x2="8.800" y2="15.200"/><line x1="8.800" y1="8.800" x2="15.200" y2="15.200"/></g></svg><span style="left:419.7px;top:950.2px;font-size:16.2px;line-height:20px;color:#1a1a1f;transform:scaleX(1.050);transform-origin:0 50%;">276</span><svg class="ic" style="left:454.7px;top:957.9px" width="6.9" height="5.5" viewBox="0 0 6.9 5.5"><path d="M3.45 1.0 L5.9 4.5 L1.0 4.5 Z" fill="#b3132f" stroke="#b3132f" stroke-width="2" stroke-linejoin="round"/></svg><span style="left:466.3px;top:951.3px;font-size:14.3px;line-height:18px;color:#b3132f;letter-spacing:0.24px;-webkit-text-stroke:0.35px #b3132f;">276</span><svg class="ic" style="left:503.4px;top:949.9px" width="19" height="19" viewBox="0 0 24 24" fill="none" stroke="#e6b325" stroke-width="2.0" stroke-linecap="round" stroke-linejoin="round"><path d="M10.29 3.86L1.82 18a2 2 0 0 0 1.71 3h16.940a2 2 0 0 0 1.710-3L13.710 3.860a2 2 0 0 0-3.420 0z"/><line x1="12" y1="9.500" x2="12" y2="13.500"/><line x1="12" y1="17" x2="12.010" y2="17"/></svg><span style="left:527.6px;top:950.2px;font-size:16.2px;line-height:20px;color:#1a1a1f;transform:scaleX(1.196);transform-origin:0 50%;">0</span><div class="bx" style="left:377.0px;top:994.1px;width:360.0px;height:91.5px;background:#fcfcfd;border-radius:3px;"></div><h3 style="left:432.1px;top:1010.6px;font-size:17.3px;line-height:22px;color:#1a1a1f;transform:scaleX(0.865);transform-origin:0 50%;-webkit-text-stroke:0.5px #1a1a1f;">CSS</h3><svg class="ic" style="left:694.5px;top:1030.9px" width="17.5" height="17.5" viewBox="0 0 24 24" fill="none" stroke="#111111" stroke-width="2.5" stroke-linecap="round" stroke-linejoin="round"><polyline points="9 18 15 12 9 6"/></svg><svg class="ic" style="left:394.9px;top:1048.4px" width="18.5" height="18.5" viewBox="0 0 24 24" fill="none" stroke="#a31b31" stroke-width="2.0" stroke-linecap="round" stroke-linejoin="round"><circle cx="12" cy="12" r="10.5"/><g stroke="#c4163a" stroke-width="2.500"><line x1="15.200" y1="8.800" x2="8.800" y2="15.200"/><line x1="8.800" y1="8.800" x2="15.200" y2="15.200"/></g></svg><span style="left:419.3px;top:1047.9px;font-size:16.2px;line-height:20px;color:#1a1a1f;transform:scaleX(1.196);transform-origin:0 50%;">0</span><svg class="ic" style="left:449.4px;top:1047.6px" width="19" height="19" viewBox="0 0 24 24" fill="none" stroke="#e6b325" stroke-width="2.0" stroke-linecap="round" stroke-linejoin="round"><path d="M10.29 3.86L1.82 18a2 2 0 0 0 1.71 3h16.940a2 2 0 0 0 1.710-3L13.710 3.860a2 2 0 0 0-3.420 0z"/><line x1="12" y1="9.500" x2="12" y2="13.500"/><line x1="12" y1="17" x2="12.010" y2="17"/></svg><span style="left:474.3px;top:1047.9px;font-size:16.2px;line-height:20px;color:#1a1a1f;transform:scaleX(1.196);transform-origin:0 50%;">0</span></div></section>
<div class="bx" style="left:377.0px;top:0.0px;width:1326.5px;height:90.5px;background:#fdfdfe;border-radius:0 0 7px 7px;box-shadow:0 2px 6px rgba(40,40,60,.10);"></div>
<div class="bx" style="left:402.0px;top:23.8px;width:701.2px;height:42.9px;background:#fdfdfe;border:2px solid #c6c6cf;border-radius:5px;"></div>
<div class="bx" style="left:404.0px;top:25.8px;width:72.0px;height:38.9px;background:#3d355c;border-radius:3px 0 0 3px;"></div>
<span style="left:239.3px;width:400px;text-align:center;top:37.3px;font-size:13.5px;line-height:17px;color:#ffffff;letter-spacing:-0.27px;-webkit-text-stroke:0.3px #ffffff;">ALL</span>
<span style="left:499.2px;top:37.3px;font-size:13.5px;line-height:17px;color:#141418;letter-spacing:-0.32px;-webkit-text-stroke:0.42px #141418;">ERRORS (396)</span>
<span style="left:637.7px;top:37.3px;font-size:13.5px;line-height:17px;color:#141418;letter-spacing:-0.22px;-webkit-text-stroke:0.42px #141418;">WARNINGS (1868)</span>
<span style="left:798.4px;top:37.3px;font-size:13.5px;line-height:17px;color:#141418;letter-spacing:-0.31px;-webkit-text-stroke:0.42px #141418;">NOTICES (1674)</span>
<span style="left:944.2px;top:37.3px;font-size:13.5px;line-height:17px;color:#141418;letter-spacing:-0.43px;-webkit-text-stroke:0.42px #141418;">PASSED CHECKS (79)</span>
<div class="bx" style="left:611.4px;top:30.5px;width:1.2px;height:29.5px;background:#c6c6cf;"></div>
<div class="bx" style="left:773.8px;top:30.5px;width:1.2px;height:29.5px;background:#c6c6cf;"></div>
<div class="bx" style="left:920.4px;top:30.5px;width:1.2px;height:29.5px;background:#c6c6cf;"></div>
<div class="bx" style="left:352.6px;top:0.0px;width:1376.0px;height:1.0px;background:#3a3a3f;"></div>
<div class="bx" style="left:1716.8px;top:8.3px;width:2.6px;height:2.6px;background:#8d8d9c;border-radius:50%;"></div></main>
<svg class="ic" style="left:0;top:990px" width="500" height="90" viewBox="0 990 500 90"><path d="M0 996.400H386Q402.500 996.400 416 1009.500L486.600 1080H0Z" fill="#0b2cf0"/></svg>
<span style="left:69.0px;top:1018.8px;font-size:36.5px;line-height:44px;color:#f4f6ff;font-family:'Liberation Mono',monospace;letter-spacing:-0.16px;-webkit-text-stroke:0.6px #f4f6ff;">Website Audit</span>
<div class="bx" style="left:1621.4px;top:943.5px;width:76.6px;height:76.6px;background:#0b50e8;border-radius:50%;box-shadow:0 4px 14px rgba(0,30,120,.25);"></div>
<div class="bx" style="left:1640.3px;top:970.2px;width:39.1px;height:20.8px;background:#ffffff;border-radius:10.4px;"></div>
<svg class="ic" style="left:1664.5px;top:991.5px" width="9" height="10" viewBox="0 0 10 11"><path d="M1 0.5H8.500V9.500Z" fill="#fff"/></svg>
</body></html>
